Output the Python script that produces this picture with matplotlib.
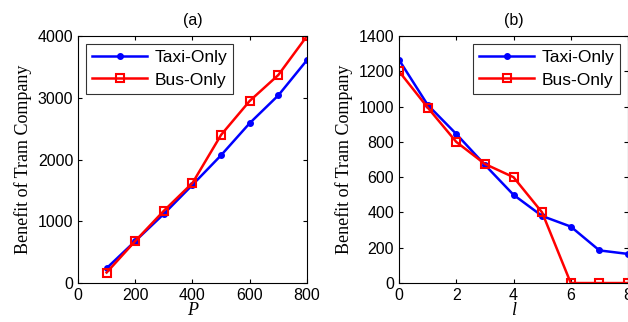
import numpy as np
import matplotlib.pyplot as plt

# panel (a): benefit vs P
P = [100, 200, 300, 400, 500, 600, 700, 800]
taxi_a = [240, 680, 1120, 1590, 2070, 2590, 3040, 3610]
bus_a = [170, 680, 1170, 1620, 2400, 2950, 3370, 4000]

# panel (b): benefit vs l
L = [0, 1, 2, 3, 4, 5, 6, 7, 8]
taxi_b = [1265, 1010, 845, 670, 500, 380, 320, 185, 165]
bus_b = [1200, 995, 800, 675, 600, 400, 0, 0, 0]

plt.rcParams['font.family'] = ['Liberation Sans', 'DejaVu Sans']
plt.rcParams['font.size'] = 11.5

fig = plt.figure(figsize=(6.28, 3.22), dpi=100)
ax1 = fig.add_axes([0.1242, 0.121, 0.3646, 0.767])
ax2 = fig.add_axes([0.6354, 0.121, 0.3646, 0.767])


def style(ax):
    ax.tick_params(direction='in', top=True, right=True, length=3, width=0.8,
                   labelsize=11.5)
    for s in ax.spines.values():
        s.set_linewidth(0.8)
    ax.set_ylabel('Benefit of Tram Company', family='Liberation Serif', fontsize=13,
                  labelpad=4)
    leg = ax.legend(fancybox=False, edgecolor='black', fontsize=12.5,
                    handlelength=3.2, borderpad=0.35, labelspacing=0.42,
                    handletextpad=0.4, borderaxespad=0.45)
    leg.get_frame().set_linewidth(0.8)
    return leg


ax1.plot(P, taxi_a, color='blue', lw=1.8, marker='o', ms=4, label='Taxi-Only')
ax1.plot(P, bus_a, color='red', lw=1.8, marker='s', ms=6, mfc='none', mew=1.5,
         label='Bus-Only')
ax1.set_xlim(0, 800)
ax1.set_ylim(0, 4000)
ax1.set_xticks([0, 200, 400, 600, 800])
ax1.set_yticks([0, 1000, 2000, 3000, 4000])
ax1.set_xlabel('P', family='Liberation Serif', style='italic', fontsize=13, labelpad=-1)
ax1.set_title('(a)', fontsize=11.5, pad=8)
leg1 = style(ax1)
leg1.set_loc('upper left')

ax2.plot(L, taxi_b, color='blue', lw=1.8, marker='o', ms=4, label='Taxi-Only')
ax2.plot(L, bus_b, color='red', lw=1.8, marker='s', ms=6, mfc='none', mew=1.5,
         label='Bus-Only')
ax2.set_xlim(0, 8)
ax2.set_ylim(0, 1400)
ax2.set_xticks([0, 2, 4, 6, 8])
ax2.set_yticks(np.arange(0, 1401, 200))
ax2.set_xlabel('l', family='Liberation Serif', style='italic', fontsize=13, labelpad=-1)
ax2.set_title('(b)', fontsize=11.5, pad=8)
leg2 = style(ax2)
leg2.set_loc('upper right')

fig.savefig('out.png', dpi=100)
